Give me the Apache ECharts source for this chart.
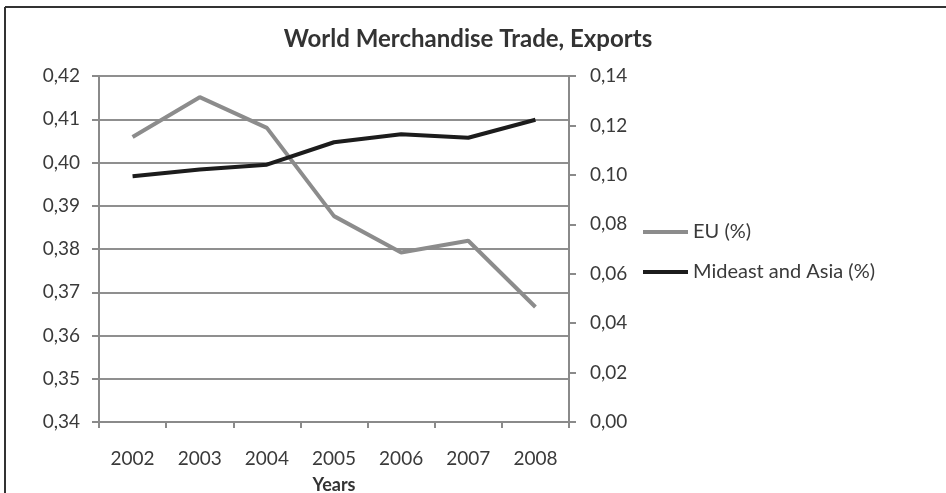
<!DOCTYPE html>
<html><head><meta charset="utf-8">
<script src="https://cdn.jsdelivr.net/npm/echarts@6/dist/echarts.min.js"></script>
<style>html,body{margin:0;padding:0;background:#fff}#c{width:946px;height:493px}</style>
</head><body><div id="c"></div>
<script>
var years = ['2002','2003','2004','2005','2006','2007','2008'];
var euValues = [0.4059, 0.4151, 0.4080, 0.3876, 0.3792, 0.3819, 0.3666];
var mideastAsiaValues = [0.0994, 0.1022, 0.1041, 0.1132, 0.1164, 0.1150, 0.1223];
var seriesNames = ['EU (%)', 'Mideast and Asia (%)'];
var titleText = 'World Merchandise Trade, Exports';
var xAxisName = 'Years';

var chart = echarts.init(document.getElementById('c'), null, {renderer:'canvas'});
var font = 'Lato';
var txt = '#3a3a3a';
function comma(d){ return function(v){ return v.toFixed(d).replace('.', ','); }; }
chart.setOption({
  backgroundColor:'#fff',
  animation:false,
  title:{text:titleText,left:463,top:22,textAlign:'center',
    textStyle:{fontFamily:font,fontSize:24,fontWeight:'bold',color:'#333'}},
  graphic:[
    {type:'line',shape:{x1:5,y1:7,x2:946,y2:7},style:{stroke:'#333',lineWidth:2}},
    {type:'line',shape:{x1:5,y1:7,x2:5,y2:493},style:{stroke:'#333',lineWidth:2}}
  ],
  legend:{orient:'vertical',left:643,top:222,padding:0,itemWidth:45,itemHeight:4,itemGap:20,icon:'rect',
    data:seriesNames,
    textStyle:{fontFamily:font,fontSize:20,color:txt}},
  grid:{left:99,right:377,top:76,bottom:71,outerBoundsMode:'none',containLabel:false},
  xAxis:{type:'category',data:years,boundaryGap:true,
    name:xAxisName,nameLocation:'middle',nameGap:54,
    nameTextStyle:{fontFamily:font,fontSize:18,fontWeight:'bold',color:'#333'},
    axisLine:{lineStyle:{color:'#8a8a8a',width:2}},
    axisTick:{show:true,length:6,lineStyle:{color:'#8a8a8a',width:2}},
    axisLabel:{fontFamily:font,fontSize:19,color:txt,margin:27}},
  yAxis:[
    {type:'value',min:0.34,max:0.42,interval:0.01,position:'left',
     axisLine:{show:true,lineStyle:{color:'#8a8a8a',width:2}},
     axisTick:{show:true,length:7,lineStyle:{color:'#8a8a8a',width:2}},
     splitLine:{show:true,lineStyle:{color:'#8f8f8f',width:2}},
     axisLabel:{fontFamily:font,fontSize:19,color:txt,margin:19,formatter:comma(2)}},
    {type:'value',min:0,max:0.14,interval:0.02,position:'right',
     axisLine:{show:true,lineStyle:{color:'#8a8a8a',width:2}},
     axisTick:{show:true,length:7,lineStyle:{color:'#8a8a8a',width:2}},
     splitLine:{show:false},
     axisLabel:{fontFamily:font,fontSize:19,color:txt,margin:21,formatter:comma(2)}}
  ],
  series:[
    {name:seriesNames[0],type:'line',yAxisIndex:0,data:euValues,showSymbol:false,symbol:'none',
     color:'#8c8c8c',lineStyle:{color:'#8c8c8c',width:4}},
    {name:seriesNames[1],type:'line',yAxisIndex:1,data:mideastAsiaValues,showSymbol:false,symbol:'none',
     color:'#1c1c1c',lineStyle:{color:'#1c1c1c',width:4}}
  ]
});
</script></body></html>
